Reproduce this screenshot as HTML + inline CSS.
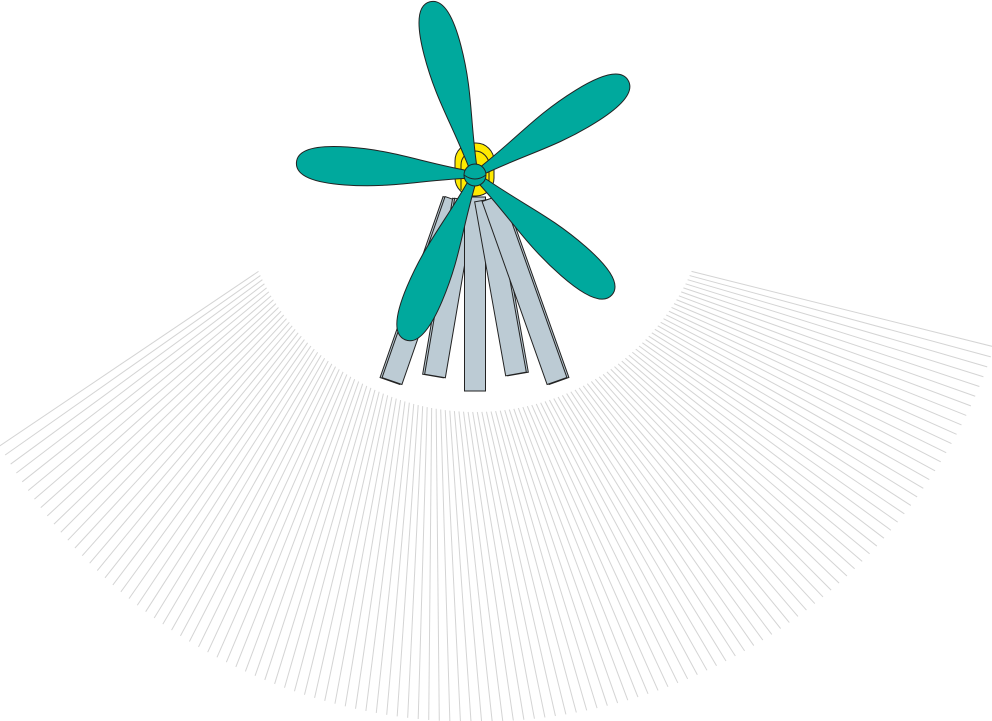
<!DOCTYPE html>
<html><head><meta charset="utf-8"><style>html,body{margin:0;padding:0;background:#fff;overflow:hidden}svg{display:block}</style></head>
<body>
<svg id="chart" width="992" height="721" viewBox="0 0 992 721" xmlns="http://www.w3.org/2000/svg">
<g id="fan"></g>
<g id="legs"></g>
<g>
<rect x="455" y="143" width="39" height="53" rx="18" fill="#ffea00" stroke="#222" stroke-width="1"/>
<path d="M461,190 L461,165 A14,14 0 0 1 489,165 L489,190" fill="none" stroke="#222" stroke-width="1"/>
</g>
<g id="blades"></g>
<g>
<circle cx="475" cy="175" r="11" fill="#00a99d" stroke="#222" stroke-width="1"/>
<path d="M464,175 Q475,183 486,175" fill="none" stroke="#222" stroke-width="1"/>
</g>
</svg>
<script>
const cx = 475, cy = 175;
const fanCount = [120];
const fanStartDeg = [156];
const fanEndDeg = [24];
const bladeAngles = [-104.6, -31.8, 41.2, 113, 184];
const bladeLengths = [179, 180, 182, 179, 179];
const legTops = [[455,200],[465,200],[475,197],[485,200],[492,198]];
const legBottoms = [[392,381],[435,376],[475,391],[516,374],[557,381]];
const NS = 'http://www.w3.org/2000/svg';
const fan = document.getElementById('fan');
const rIn = 237, len = 312, skew = 10;
for (let i = 0; i < fanCount[0]; i++) {
  const a = (fanStartDeg[0] + (fanEndDeg[0] - fanStartDeg[0]) * i / (fanCount[0] - 1)) * Math.PI / 180;
  const d = a - skew * Math.PI / 180;
  const x1 = cx + rIn * Math.cos(a), y1 = cy + rIn * Math.sin(a);
  const l = document.createElementNS(NS, 'line');
  
  
  l.setAttribute('x1', x1); l.setAttribute('y1', y1);
  l.setAttribute('x2', x1 + len * Math.cos(d)); l.setAttribute('y2', y1 + len * Math.sin(d));
  l.setAttribute('stroke', '#d4d4d4'); l.setAttribute('stroke-width', '1');
  fan.appendChild(l);
}
const legs = document.getElementById('legs');
function legPoly(t, b, w, off) {
  const dx = b[0] - t[0], dy = b[1] - t[1], L = Math.hypot(dx, dy);
  const nx = -dy / L * w / 2, ny = dx / L * w / 2;
  const p = [[t[0]+nx+off,t[1]+ny],[t[0]-nx+off,t[1]-ny],[b[0]-nx+off,b[1]-ny],[b[0]+nx+off,b[1]+ny]];
  return p.map(q => q.join(',')).join(' ');
}
for (let i = 0; i < legTops.length; i++) {
  const off = i === 2 ? 0 : (i < 2 ? -2 : 2);
  if (i !== 2) {
    const s = document.createElementNS(NS, 'polygon');
    
    
    s.setAttribute('points', legPoly(legTops[i], legBottoms[i], 21, off));
    s.setAttribute('fill', '#bccbd4'); s.setAttribute('stroke', '#222'); s.setAttribute('stroke-width', '1');
    legs.appendChild(s);
  }
  const p = document.createElementNS(NS, 'polygon');
  
  
  p.setAttribute('points', legPoly(legTops[i], legBottoms[i], 21, 0));
  p.setAttribute('fill', '#bccbd4'); p.setAttribute('stroke', '#222'); p.setAttribute('stroke-width', '1');
  legs.appendChild(p);
}
const blades = document.getElementById('blades');
const W = 19;
for (let i = 0; i < bladeAngles.length; i++) {
  const L = bladeLengths[i];
  const d = `M0,-3 C${L*0.3},-${W*0.45} ${L*0.45},-${W} ${L*0.72},-${W} Q${L},-${W} ${L},0 Q${L},${W} ${L*0.72},${W} C${L*0.45},${W} ${L*0.3},${W*0.45} 0,3 Z`;
  const p = document.createElementNS(NS, 'path');
  
  
  p.setAttribute('d', d);
  p.setAttribute('transform', `translate(${cx},${cy}) rotate(${bladeAngles[i]})`);
  p.setAttribute('fill', '#00a99d'); p.setAttribute('stroke', '#222'); p.setAttribute('stroke-width', '1');
  blades.appendChild(p);
}
</script>
</body></html>
